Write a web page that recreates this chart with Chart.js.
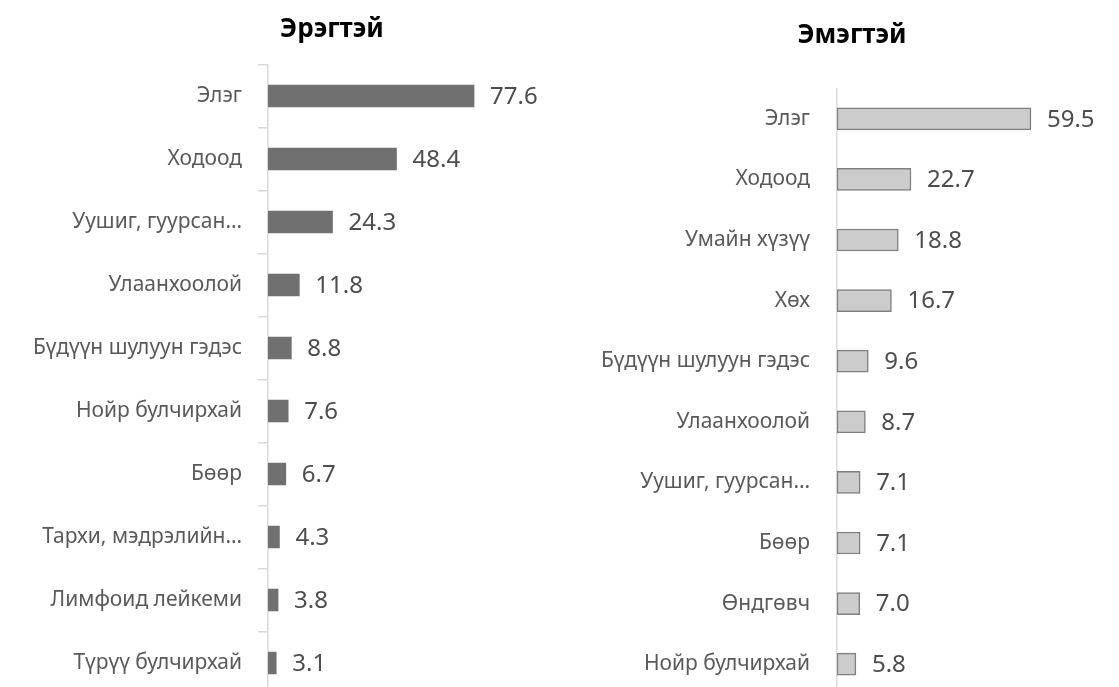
<!DOCTYPE html>
<html>
<head>
<meta charset="utf-8">
<script src="https://cdn.jsdelivr.net/npm/chart.js@4"></script>
<style>
  html, body { margin: 0; padding: 0; background: #fff; overflow: hidden; }
  #wrap { position: relative; width: 1119px; height: 687px; }
  canvas { position: absolute; top: 0; }
  .title {
    position: absolute; width: 300px; margin-left: -150px; text-align: center;
    font: bold 26px "Noto Sans", "Open Sans", sans-serif; line-height: 32px; color: #000;
  }
</style>
</head>
<body>
<div id="wrap">
  <canvas id="menChart" width="560" height="700" style="left:0"></canvas>
  <canvas id="womenChart" width="559" height="700" style="left:560px"></canvas>
  <div class="title" style="left:332px;top:11px">Эрэгтэй</div>
  <div class="title" style="left:852px;top:17px">Эмэгтэй</div>
</div>
<script>
const menLabels = ['Элэг', 'Ходоод', 'Уушиг, гуурсан…', 'Улаанхоолой', 'Бүдүүн шулуун гэдэс',
  'Нойр булчирхай', 'Бөөр', 'Тархи, мэдрэлийн…', 'Лимфоид лейкеми', 'Түрүү булчирхай'];
const menValues = [77.6, 48.4, 24.3, 11.8, 8.8, 7.6, 6.7, 4.3, 3.8, 3.1];

const womenLabels = ['Элэг', 'Ходоод', 'Умайн хүзүү', 'Хөх', 'Бүдүүн шулуун гэдэс',
  'Улаанхоолой', 'Уушиг, гуурсан…', 'Бөөр', 'Өндгөвч', 'Нойр булчирхай'];
const womenValues = [59.5, 22.7, 18.8, 16.7, 9.6, 8.7, 7.1, 7.1, 7.0, 5.8];

const FONT = '"Noto Sans", "Open Sans", sans-serif';

// value labels next to each bar
const valueLabels = {
  id: 'valueLabels',
  afterDatasetsDraw(chart) {
    const ctx = chart.ctx;
    const meta = chart.getDatasetMeta(0);
    ctx.save();
    ctx.font = '24px ' + FONT;
    ctx.fillStyle = '#4d4d4d';
    ctx.textAlign = 'left';
    ctx.textBaseline = 'middle';
    meta.data.forEach((bar, i) => {
      const v = chart.data.datasets[0].data[i];
      ctx.fillText(v.toFixed(1), bar.x + 16, bar.y + 1);
    });
    ctx.restore();
  }
};

function makeChart(id, labels, values, opt) {
  return new Chart(document.getElementById(id), {
    type: 'bar',
    data: {
      labels: labels,
      datasets: [{
        data: values,
        backgroundColor: opt.fill,
        borderColor: opt.border,
        borderWidth: opt.borderWidth,
        borderSkipped: false,
        barThickness: 22
      }]
    },
    options: {
      indexAxis: 'y',
      responsive: false,
      animation: false,
      layout: { padding: { top: opt.padTop, right: opt.padRight, bottom: 5.5, left: 0 } },
      plugins: {
        legend: { display: false },
        tooltip: { enabled: false }
      },
      scales: {
        x: {
          display: false,
          min: 0,
          max: opt.max
        },
        y: {
          afterFit(scale) {
            scale.width = opt.axisX;
            // labels sit in the middle of bands, no extra room needed
            scale.paddingTop = 0;
            scale.paddingBottom = 0;
          },
          border: { display: true, color: '#d9d9d9', width: 1.5 },
          grid: {
            offset: true,
            drawOnChartArea: false,
            drawTicks: opt.ticks,
            tickLength: 10,
            color: '#d9d9d9',
            lineWidth: 1.5
          },
          ticks: {
            color: '#595959',
            padding: opt.labelPad,
            font: { family: FONT, size: 21 }
          }
        }
      }
    },
    plugins: [valueLabels]
  });
}

makeChart('menChart', menLabels, menValues, {
  fill: '#707070', border: '#707070', borderWidth: 0,
  max: 100, axisX: 268, padTop: 64.5, padRight: 26.5,
  ticks: true, labelPad: 16
});

makeChart('womenChart', womenLabels, womenValues, {
  fill: '#cccccc', border: '#7f7f7f', borderWidth: 1.5,
  max: 80, axisX: 277, padTop: 88.5, padRight: 21.2,
  ticks: false, labelPad: 27
});
</script>
</body>
</html>
